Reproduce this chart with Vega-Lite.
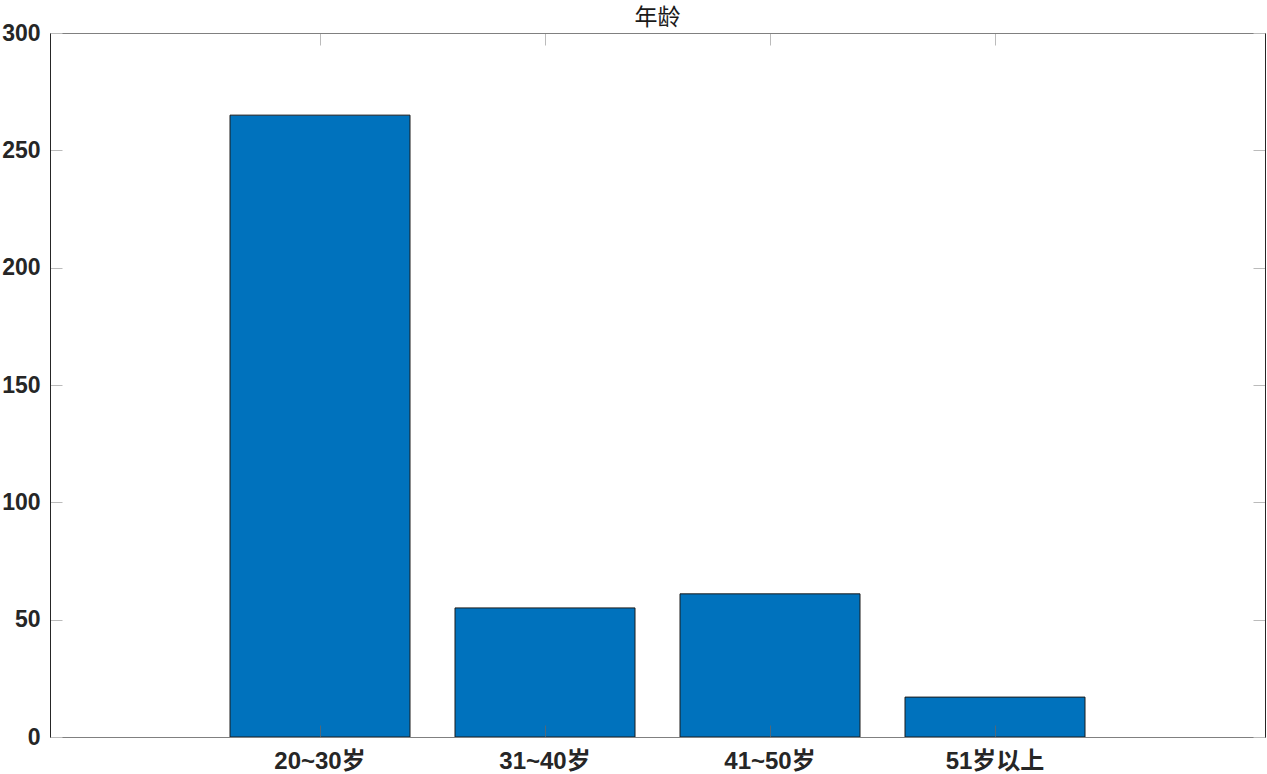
{
  "$schema": "https://vega.github.io/schema/vega-lite/v6.json",
  "width": 1215,
  "height": 704,
  "autosize": {"type": "none"},
  "padding": {"left": 50, "top": 33, "right": 2, "bottom": 37},
  "background": "white",
  "title": {"text": "年龄", "font": "Noto Sans CJK SC", "fontSize": 23, "fontWeight": "normal", "color": "#1a1a1a", "offset": -8},
  "config": {"view": {"stroke": null}},
  "data": {"values": [
    {"age": "20~30岁", "count": 265},
    {"age": "31~40岁", "count": 55},
    {"age": "41~50岁", "count": 61},
    {"age": "51岁以上", "count": 17}
  ]},
  "resolve": {"axis": {"x": "independent", "y": "independent"}},
  "layer": [
    {
      "mark": {"type": "bar", "fill": "#0072BD", "stroke": "#1a1a1a", "strokeWidth": 1},
      "encoding": {
        "x": {"field": "age", "type": "nominal", "sort": null,
          "scale": {"paddingInner": 0.2, "paddingOuter": 0.8},
          "axis": {"orient": "bottom", "title": null, "labelAngle": 0, "labelFont": "Liberation Sans, Noto Sans CJK SC", "labelFontWeight": "bold", "labelFontSize": 24, "labelColor": "#262626", "labelPadding": 24, "tickSize": -12, "tickColor": "#666", "tickWidth": 0.8, "domainColor": "#808080", "domainWidth": 1, "zindex": 1}},
        "y": {"field": "count", "type": "quantitative",
          "scale": {"domain": [0, 300], "nice": false},
          "axis": {"orient": "left", "title": null, "values": [0, 50, 100, 150, 200, 250, 300], "labelFont": "Liberation Sans", "labelFontWeight": "bold", "labelFontSize": 23, "labelColor": "#262626", "labelPadding": 22, "tickSize": -12, "tickColor": "#bbb", "tickWidth": 1, "domainColor": "#262626", "domainWidth": 1, "grid": false, "zindex": 1}}
      }
    },
    {
      "mark": {"type": "tick", "opacity": 0},
      "encoding": {
        "x": {"field": "age", "type": "nominal", "sort": null,
          "axis": {"orient": "top", "title": null, "labels": false, "tickSize": -12, "tickColor": "#bbb", "tickWidth": 1, "domainColor": "#808080", "domainWidth": 1, "zindex": 1}},
        "y": {"field": "count", "type": "quantitative",
          "axis": {"orient": "right", "title": null, "labels": false, "values": [0, 50, 100, 150, 200, 250, 300], "tickSize": -12, "tickColor": "#bbb", "tickWidth": 1, "domainColor": "#262626", "domainWidth": 1, "grid": false, "zindex": 1}}
      }
    }
  ]
}
